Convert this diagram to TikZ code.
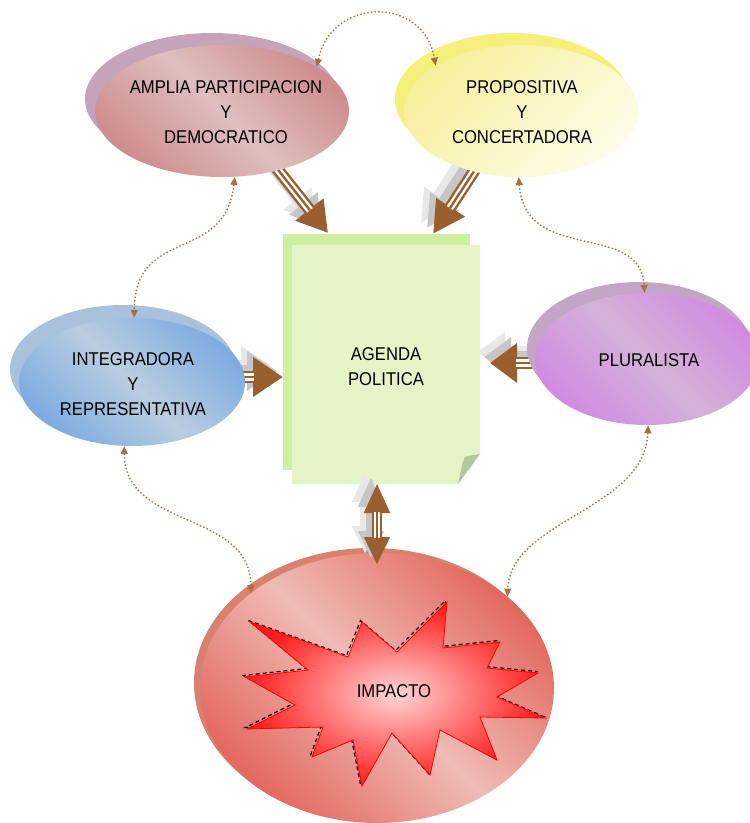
\documentclass[tikz,border=0pt]{standalone}
\usepackage{fontspec}
\setmainfont{Liberation Sans}[FakeStretch=0.9]
\usetikzlibrary{shapes.geometric,arrows.meta,calc}
\definecolor{ampB}{HTML}{C5A3B9}
\definecolor{ampD}{HTML}{CF8D8F}
\definecolor{ampL}{HTML}{DEBFBF}
\definecolor{propB}{HTML}{F6EF7C}
\definecolor{propY}{HTML}{F6EF9C}
\definecolor{propW}{HTML}{FEFCE8}
\definecolor{intB}{HTML}{A9C1DA}
\definecolor{intD}{HTML}{7EACE0}
\definecolor{intL}{HTML}{BACDE0}
\definecolor{pluB}{HTML}{C3A6C6}
\definecolor{pluD}{HTML}{D28BE2}
\definecolor{pluL}{HTML}{D3B2D8}
\definecolor{impB}{HTML}{D6826F}
\definecolor{impD}{HTML}{E3685E}
\definecolor{impL}{HTML}{EFBCB5}
\definecolor{starIn}{HTML}{FDD6D6}
\definecolor{starOut}{HTML}{FF1C1C}
\definecolor{boxB}{HTML}{CEEEA0}
\definecolor{boxF}{HTML}{E3F4C6}
\definecolor{flapC}{HTML}{B6C7A0}
\definecolor{arrbrown}{HTML}{9A5F2E}
\definecolor{dotbrown}{HTML}{A86F3F}
\tikzset{
  lbl/.style={align=center, font=\fontsize{18.5}{25}\selectfont, inner sep=0pt, text=black},
  oval/.style={ellipse, inner sep=0pt, draw=none},
  diag/.style 2 args={top color=#1, bottom color=#1, middle color=#2, shading angle=-45},
  dotconn/.style={draw=dotbrown, line width=1.4pt, dash pattern=on 1.4pt off 2.2pt,
     {Triangle[length=8pt,width=7pt]}-{Triangle[length=8pt,width=7pt]}},
}
\newcommand\bigarr[5]{%
  \foreach \dx/\dy/\sc in {-12/-11/gray!18,-6/-6/gray!45}{%
    \draw[line width=#5pt, draw=\sc, #1] ([shift={(\dx,\dy)}]#2) -- ([shift={(\dx,\dy)}]#3);
  }%
  \draw[line width=#5pt, draw=arrbrown, #1] (#2) -- (#3);
  \draw[line width=0.6*#5pt, draw=white, #4] (#2) -- (#3);
  \draw[line width=0.2*#5pt, draw=arrbrown, #4] (#2) -- (#3);
}
\begin{document}
\begin{tikzpicture}[x=1pt,y=-1pt]
\useasboundingbox (0,0) rectangle (750,823);
\fill[white] (0,0) rectangle (750,823);

% IMPACTO
\node[oval, fill=impB, minimum width=354pt, minimum height=270pt] (impb) at (371,683) {};
\node[oval, diag={impD}{impL}, minimum width=354pt, minimum height=270pt] (imp) at (377,688) {};
\draw[black, line width=1.2pt, dash pattern=on 4pt off 3pt, shift={(-1.5,-1.5)}]
  (250,622) -- (348,657) -- (362,622) -- (397,652) -- (447,602) -- (443,648) -- (500,642) -- (487,668)
  -- (538,673) -- (497,697) -- (545,718) -- (480,717) -- (497,760) -- (440,730) -- (430,775) -- (392,733)
  -- (362,786) -- (353,740) -- (312,757) -- (323,727) -- (247,729) -- (295,705) -- (245,677) -- (308,670) -- cycle;
\shade[draw=red, line width=0.8pt, inner color=starIn, outer color=starOut]
  (250,622) -- (348,657) -- (362,622) -- (397,652) -- (447,602) -- (443,648) -- (500,642) -- (487,668)
  -- (538,673) -- (497,697) -- (545,718) -- (480,717) -- (497,760) -- (440,730) -- (430,775) -- (392,733)
  -- (362,786) -- (353,740) -- (312,757) -- (323,727) -- (247,729) -- (295,705) -- (245,677) -- (308,670) -- cycle;
\node[lbl] (impt) at (394,691) {IMPACTO};

% AGENDA box
\node[rectangle, inner sep=0pt, fill=boxB, minimum width=187pt, minimum height=236pt] (agb) at (376.5,352) {};
\fill[boxF] (292,245) -- (480,245) -- (480,454) -- (458,484) -- (292,484) -- cycle;
\fill[flapC] (458,484) .. controls (461,470) and (462,462) .. (465,457) .. controls (470,455) and (476,455) .. (480,454) -- cycle;
\node[lbl] (agenda) at (386,367) {AGENDA\\POLITICA};

% thick arrows
\coordinate (a1s) at (275,166); \coordinate (a1t) at (328,233);
\coordinate (a2s) at (482,159); \coordinate (a2t) at (433,234);
\coordinate (a3s) at (235,377); \coordinate (a3t) at (283,377);
\coordinate (a4s) at (545,363); \coordinate (a4t) at (490,363);
\coordinate (a5s) at (377,483); \coordinate (a5t) at (377,565);
\bigarr{-{Triangle[length=30pt,width=34pt]}}{a1s}{a1t}{shorten >=29pt}{12}
\bigarr{-{Triangle[length=32pt,width=32pt]}}{a2s}{a2t}{shorten >=31pt}{12}
\bigarr{-{Triangle[length=30pt,width=38pt]}}{a3s}{a3t}{shorten >=29pt}{12}
\bigarr{-{Triangle[length=27pt,width=38pt]}}{a4s}{a4t}{shorten >=26pt}{12}
\bigarr{{Triangle[length=30pt,width=24pt]}-{Triangle[length=28pt,width=24pt]}}{a5s}{a5t}{shorten <=29pt, shorten >=27pt}{10}

% ellipses
\node[oval, fill=ampB, minimum width=254pt, minimum height=132pt] (ampb) at (212,99) {};
\node[oval, diag={ampD}{ampL}, minimum width=254pt, minimum height=132pt] (amp) at (222,111) {};
\node[lbl] (ampt) at (226,112) {AMPLIA PARTICIPACION\\Y\\DEMOCRATICO};

\node[oval, fill=propB, minimum width=234pt, minimum height=132pt] (propb) at (512,99) {};
\node[oval, top color=propY, bottom color=propW, shading angle=45, minimum width=234pt, minimum height=132pt] (prop) at (521,111) {};
\node[lbl] (propt) at (522,112) {PROPOSITIVA\\Y\\CONCERTADORA};

\node[oval, fill=intB, minimum width=226pt, minimum height=128pt] (intgb) at (123,369) {};
\node[oval, diag={intD}{intL}, minimum width=226pt, minimum height=128pt] (intg) at (132,382) {};
\node[lbl] (intgt) at (133,384) {INTEGRADORA\\Y\\REPRESENTATIVA};

\node[oval, fill=pluB, minimum width=224pt, minimum height=132pt] (plub) at (639,348) {};
\node[oval, diag={pluD}{pluL}, minimum width=224pt, minimum height=132pt] (plu) at (647,359) {};
\node[lbl] (plut) at (649,360) {PLURALISTA};

% dotted connectors
\draw[dotconn] (amp.25) .. controls +(15,-70) and +(-12,-70) .. (prop.152);
\draw[dotconn] (amp.-79) .. controls (225,265) and (135,225) .. (intg.88);
\draw[dotconn] (prop.-92) .. controls (525,265) and (640,220) .. (plu.92);
\draw[dotconn] (intg.-97) .. controls (125,530) and (250,510) .. (imp.143);
\draw[dotconn] (plu.-89) .. controls (645,510) and (510,520) .. (imp.35);
\end{tikzpicture}
\end{document}
